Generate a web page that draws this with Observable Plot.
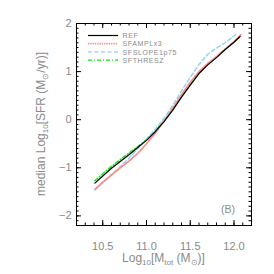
<!DOCTYPE html>
<html><head><meta charset="utf-8">
<script src="https://cdn.jsdelivr.net/npm/d3@7"></script>
<script src="https://cdn.jsdelivr.net/npm/@observablehq/plot@0.6"></script>
<style>html,body{margin:0;padding:0;background:#fff;}</style>
</head><body><div id="chart"></div>
<script>
const seriesNames = ["REF","SFAMPLx3","SFSLOPE1p75","SFTHRESZ"];
const seriesColors = ["#000000","#ff8888","#8fd0f5","#19e619"];
const seriesDash = ["none","1.3,1","4,2.5","4,2,1,2"];
const refX = [10.41,10.5,10.6,10.7,10.8,10.9,11.0,11.1,11.2,11.3,11.4,11.5,11.6,11.7,11.8,11.9,12.0,12.07];
const refY = [-1.32,-1.17,-1.01,-0.87,-0.73,-0.58,-0.43,-0.25,-0.04,0.20,0.47,0.72,0.96,1.14,1.29,1.46,1.61,1.73];
const amplX = [10.41,10.5,10.6,10.7,10.8,10.9,11.0,11.1,11.2,11.3,11.4,11.5,11.6,11.7,11.8,11.9,12.0,12.08];
const amplY = [-1.45,-1.30,-1.15,-1.00,-0.86,-0.70,-0.50,-0.28,-0.03,0.24,0.52,0.78,1.00,1.17,1.31,1.47,1.62,1.77];
const slopeX = [10.41,10.5,10.6,10.7,10.8,10.9,11.0,11.1,11.2,11.3,11.4,11.5,11.6,11.7,11.8,11.9,12.02];
const slopeY = [-1.46,-1.31,-1.14,-0.98,-0.80,-0.60,-0.40,-0.20,0.03,0.30,0.60,0.88,1.15,1.36,1.49,1.60,1.77];
const threshX = [10.41,10.5,10.6,10.7,10.8,10.9,11.0,11.1,11.2,11.3,11.4,11.5,11.6,11.7,11.8,11.9,12.0,12.07];
const threshY = [-1.27,-1.12,-0.97,-0.83,-0.69,-0.56,-0.41,-0.23,-0.03,0.21,0.48,0.73,0.97,1.16,1.31,1.47,1.62,1.74];
const xTickLabels = [10.5,11.0,11.5,12.0];
const yTickLabels = [-2,-1,0,1,2];
const xMinor = d3.range(10.2,12.201,0.1).map(v=>+v.toFixed(2));
const yMinor = d3.range(-2.2,2.001,0.1).map(v=>+v.toFixed(2));

const W=274,H=274,ML=76,MR=23,MT=23,MB=49;
const PW=W-ML-MR, PH=H-MT-MB;
const widths = [1.2,1.7,1.4,1.4];
const series = [[refX,refY],[amplX,amplY],[slopeX,slopeY],[threshX,threshY]];
const lineMarks = series.map(([xs,ys],i)=>Plot.line(xs.map((x,j)=>({x,y:ys[j]})),{x:"x",y:"y",stroke:seriesColors[i],strokeWidth:widths[i],strokeDasharray:seriesDash[i]})).reverse();

const chart = Plot.plot({
  width:W,height:H,marginLeft:ML,marginRight:MR,marginTop:MT,marginBottom:MB,
  style:{background:"#fff",fontFamily:"'Liberation Sans',Arial,sans-serif"},
  x:{domain:[10.2,12.2]},
  y:{domain:[-2.2,2]},
  marks:[
    ...lineMarks,
    Plot.tickX(xMinor,{x:d=>d,insetTop:PH-2.5,stroke:"#000"}),
    Plot.tickX(xMinor,{x:d=>d,insetBottom:PH-2.5,stroke:"#000"}),
    Plot.tickX(xTickLabels,{x:d=>d,insetTop:PH-5,stroke:"#000"}),
    Plot.tickX(xTickLabels,{x:d=>d,insetBottom:PH-5,stroke:"#000"}),
    Plot.tickY(yMinor,{y:d=>d,insetRight:PW-2.5,stroke:"#000"}),
    Plot.tickY(yMinor,{y:d=>d,insetLeft:PW-2.5,stroke:"#000"}),
    Plot.tickY(yTickLabels,{y:d=>d,insetRight:PW-5,stroke:"#000"}),
    Plot.tickY(yTickLabels,{y:d=>d,insetLeft:PW-5,stroke:"#000"}),
    Plot.axisX(xTickLabels,{tickSize:0,tickPadding:17,tickFormat:d3.format(".1f"),fontSize:11,fill:"#8a8a8a",label:null}),
    Plot.axisY(yTickLabels,{tickSize:0,tickPadding:5,tickFormat:d=>d<0?"\u2212"+Math.abs(d):String(d),fontSize:11,fill:"#8a8a8a",label:null}),
    Plot.frame({stroke:"#000",strokeWidth:1})
  ]
});
document.getElementById("chart").appendChild(chart);

const svg = d3.select(chart);
const gray="#8a8a8a";
const ff="'Liberation Sans',Arial,sans-serif";
// y label
const yl = svg.append("text").attr("transform",`translate(45,${MT+PH/2}) rotate(-90)`)
  .attr("text-anchor","middle").attr("fill",gray).attr("font-size",12).attr("font-family",ff);
yl.append("tspan").text("median Log");
yl.append("tspan").attr("font-size",8).attr("dy",3).text("10");
yl.append("tspan").attr("dy",-3).text("[SFR (M");
yl.append("tspan").attr("font-size",8).attr("dy",3).text("\u2299");
yl.append("tspan").attr("dy",-3).text("/yr)]");
// x label
const xl = svg.append("text").attr("x",ML+PW/2).attr("y",262)
  .attr("text-anchor","middle").attr("fill",gray).attr("font-size",12).attr("font-family",ff);
xl.append("tspan").text("Log");
xl.append("tspan").attr("font-size",8).attr("dy",3).text("10");
xl.append("tspan").attr("dy",-3).text("[M");
xl.append("tspan").attr("font-size",8).attr("dy",3).text("tot");
xl.append("tspan").attr("dy",-3).text(" (M");
xl.append("tspan").attr("font-size",8).attr("dy",3).text("\u2299");
xl.append("tspan").attr("dy",-3).text(")]");
// legend
const lg = svg.append("g");
seriesNames.forEach((n,i)=>{
  const y = 35.5 + i*8.2;
  lg.append("line").attr("x1",88).attr("x2",118).attr("y1",y).attr("y2",y)
    .attr("stroke",seriesColors[i]).attr("stroke-width",widths[i]).attr("stroke-dasharray",seriesDash[i]);
  lg.append("text").attr("x",122.5).attr("y",y+2.6).attr("text-anchor","start").attr("fill",gray).attr("font-size",7)
    .attr("letter-spacing",0.6).attr("font-family",ff).text(n);
});
svg.append("text").attr("x",221).attr("y",213).attr("text-anchor","start").attr("fill",gray).attr("font-size",10.5)
  .attr("font-family",ff).text("(B)");
</script>
</body></html>
